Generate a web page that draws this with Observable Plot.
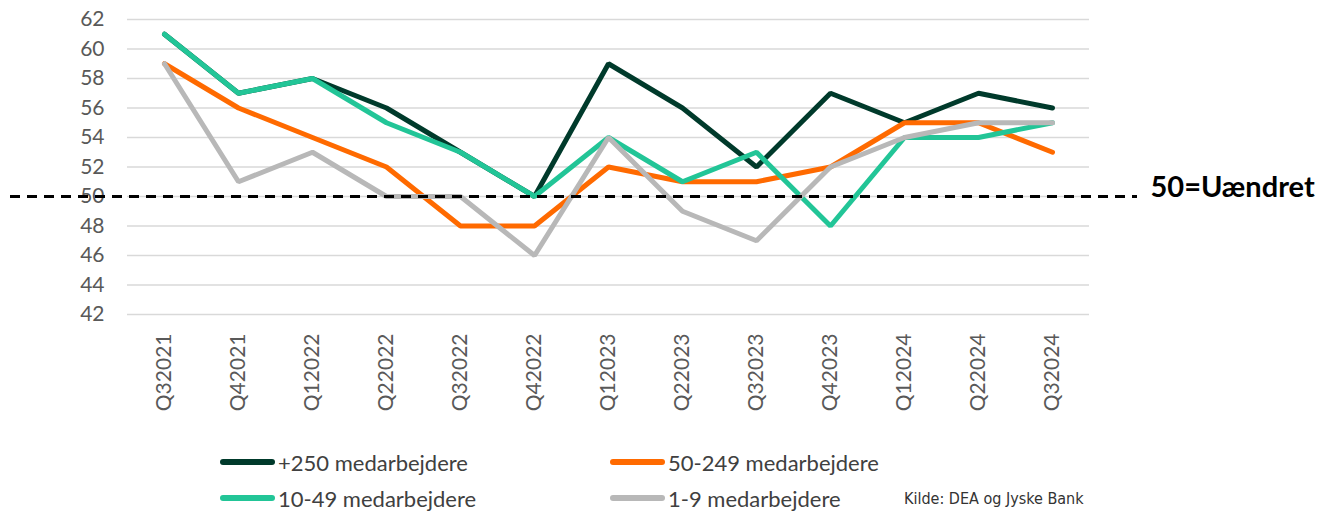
<!DOCTYPE html>
<html><head><meta charset="utf-8">
<script src="https://cdn.jsdelivr.net/npm/d3@7"></script>
<script src="https://cdn.jsdelivr.net/npm/@observablehq/plot@0.6"></script>
<style>
body{margin:0;background:#fff;font-family:Lato,"Open Sans",sans-serif;}
#chart{width:1332px;height:513px;position:relative;overflow:hidden}
#legend{position:absolute;left:0;top:420px;width:1332px;height:93px}
.item{position:absolute;display:flex;align-items:center;height:30px;font-size:22px;color:#404040;white-space:nowrap}
.sw{width:55px;height:6px;border-radius:3px;margin-right:3px}
.src{position:absolute;font-size:16px;line-height:20px;color:#333;font-family:"Liberation Sans Narrow","DejaVu Sans Condensed",Lato,sans-serif;white-space:nowrap}
</style></head><body><div id="chart"></div>
<script>
const quarters = ["Q32021","Q42021","Q12022","Q22022","Q32022","Q42022","Q12023","Q22023","Q32023","Q42023","Q12024","Q22024","Q32024"];
const big = [61,57,58,56,53,50,59,56,52,57,55,57,56];
const medium = [59,56,54,52,48,48,52,51,51,52,55,55,53];
const small = [61,57,58,55,53,50,54,51,53,48,54,54,55];
const micro = [59,51,53,50,50,46,54,49,47,52,54,55,55];
const seriesNames = ["+250 medarbejdere","50-249 medarbejdere","10-49 medarbejdere","1-9 medarbejdere"];
const seriesColors = ["#003a2b","#ff6a00","#22c597","#b8b8b8"];
const yTicks = [42,44,46,48,50,52,54,56,58,60,62];
const refValue = [50];
const refLabel = ["50=Uændret"];
const source = "Kilde: DEA og Jyske Bank";

const allSeries = [big, medium, small, micro];
const data = allSeries.flatMap((vals, i) => vals.map((v, j) => ({q: quarters[j], v, s: seriesNames[i]})));

const plot = Plot.plot({
  width: 1332, height: 420,
  marginLeft: 127, marginRight: 243, marginTop: 19, marginBottom: 106,
  style: {fontFamily: "Lato, sans-serif", fontSize: "21px", color: "#595959", background: "#fff"},
  x: {type: "point", domain: quarters, padding: 0.5, label: null, tickRotate: -90, tickSize: 0, tickPadding: 19},
  y: {domain: [42, 62], ticks: yTicks, label: null, tickSize: 0, tickPadding: 23},
  color: {domain: seriesNames, range: seriesColors},
  marks: [
    Plot.gridY(yTicks, {stroke: "#d9d9d9", strokeOpacity: 1, strokeWidth: 1.5}),
    Plot.line(data, {x: "q", y: "v", z: "s", stroke: "s", strokeWidth: 5, strokeLinejoin: "miter", strokeLinecap: "round"}),
    Plot.ruleY(refValue, {stroke: "#000", strokeWidth: 3, strokeDasharray: "10,7"}),
    Plot.text(refLabel, {y: () => refValue[0], frameAnchor: "right", textAnchor: "start", dx: 61, dy: -9, fontSize: 29, fontWeight: "bold", fill: "#000"})
  ]
});
// extend the reference line across the full width as in the original
d3.select(plot).select('g[aria-label="rule"] line').attr("x1", 10).attr("x2", 1137);
const chart = document.getElementById("chart");
chart.appendChild(plot);

const legend = document.createElement("div");
legend.id = "legend";
const pos = [[220, 27], [610, 27], [220, 63], [610, 63]];
seriesNames.forEach((n, i) => {
  const it = document.createElement("div");
  it.className = "item";
  it.style.left = pos[i][0] + "px";
  it.style.top = pos[i][1] + "px";
  const sw = document.createElement("span");
  sw.className = "sw";
  sw.style.background = seriesColors[i];
  it.appendChild(sw);
  it.appendChild(document.createTextNode(n));
  legend.appendChild(it);
});
const src = document.createElement("div");
src.className = "src";
src.style.left = "904px";
src.style.top = "69px";
src.textContent = source;
legend.appendChild(src);
chart.appendChild(legend);
</script></body></html>
